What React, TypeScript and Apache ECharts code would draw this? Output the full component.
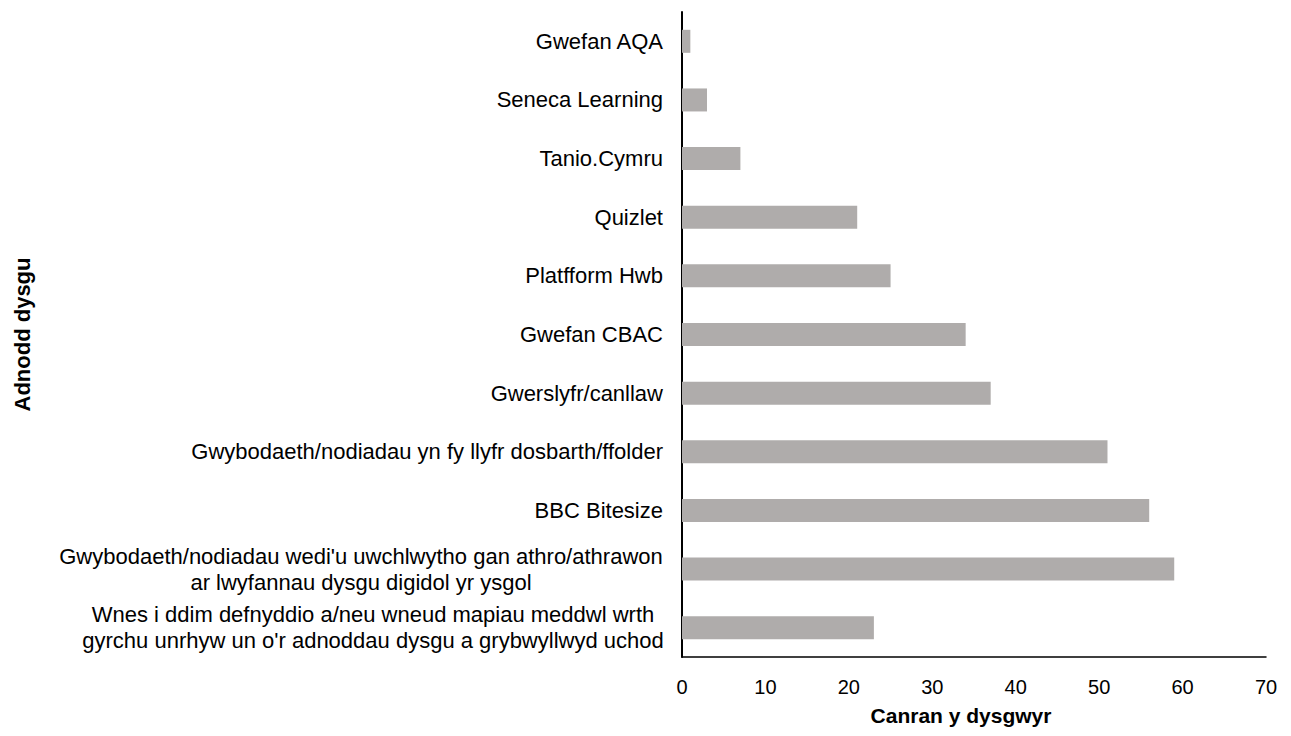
import React, { useEffect, useRef } from "react";
import * as echarts from "echarts";

const categories = [
  "Gwefan AQA",
  "Seneca Learning",
  "Tanio.Cymru",
  "Quizlet",
  "Platfform Hwb",
  "Gwefan CBAC",
  "Gwerslyfr/canllaw",
  "Gwybodaeth/nodiadau yn fy llyfr dosbarth/ffolder",
  "BBC Bitesize",
  "Gwybodaeth/nodiadau wedi'u uwchlwytho gan athro/athrawon\nar lwyfannau dysgu digidol yr ysgol",
  "Wnes i ddim defnyddio a/neu wneud mapiau meddwl wrth\ngyrchu unrhyw un o'r adnoddau dysgu a grybwyllwyd uchod",
];

const values = [1, 3, 7, 21, 25, 34, 37, 51, 56, 59, 23];

const xTicks = { min: 0, max: 70, interval: 10 };

const xAxisName = "Canran y dysgwyr";
const yAxisName = "Adnodd dysgu";

export default function App() {
  const ref = useRef<HTMLDivElement>(null);

  useEffect(() => {
    if (!ref.current) return;
    const chart = echarts.init(ref.current, null, { renderer: "svg" });
    const font = "'Liberation Sans', Arial, sans-serif";
    chart.setOption({
      animation: false,
      backgroundColor: "#ffffff",
      grid: { left: 682, right: 25, top: 12, bottom: 79 },
      xAxis: {
        type: "value",
        min: xTicks.min,
        max: xTicks.max,
        interval: xTicks.interval,
        name: xAxisName,
        nameLocation: "middle",
        nameGap: 48,
        nameTextStyle: {
          fontFamily: font,
          fontSize: 21,
          fontWeight: "bold",
          color: "#000",
          padding: [0, 26, 0, 0],
        },
        axisLine: { show: true, lineStyle: { color: "#000", width: 1.5 } },
        axisTick: { show: false },
        splitLine: { show: false },
        axisLabel: { fontFamily: font, fontSize: 20, color: "#000", margin: 20 },
      },
      yAxis: {
        type: "category",
        data: categories,
        inverse: true,
        name: yAxisName,
        nameLocation: "middle",
        nameRotate: 90,
        nameGap: 649,
        nameTextStyle: { fontFamily: font, fontSize: 22, fontWeight: "bold", color: "#000" },
        axisLine: { show: true, lineStyle: { color: "#000", width: 2 } },
        axisTick: { show: false },
        axisLabel: {
          fontFamily: font,
          fontSize: 22,
          color: "#000",
          margin: 19,
          lineHeight: 26,
          formatter: (v: string) => {
            if (v.indexOf("\n") >= 0) {
              const parts = v.split("\n");
              const key = v.startsWith("Gwybodaeth") ? "a" : "b";
              return parts.map((p) => `{${key}|${p}}`).join("\n");
            }
            return v;
          },
          rich: {
            a: { width: 604, align: "center", fontFamily: font, fontSize: 22, lineHeight: 26, color: "#000" },
            b: { width: 580, align: "center", fontFamily: font, fontSize: 22, lineHeight: 26, color: "#000" },
          },
        },
      },
      series: [
        {
          type: "bar",
          data: values,
          barWidth: 23,
          itemStyle: { color: "#afacab" },
        },
      ],
    });
    return () => chart.dispose();
  }, []);

  return (
    <div
      ref={ref}
      style={{ position: "absolute", left: 0, top: 0, width: 1291, height: 736 }}
    />
  );
}
